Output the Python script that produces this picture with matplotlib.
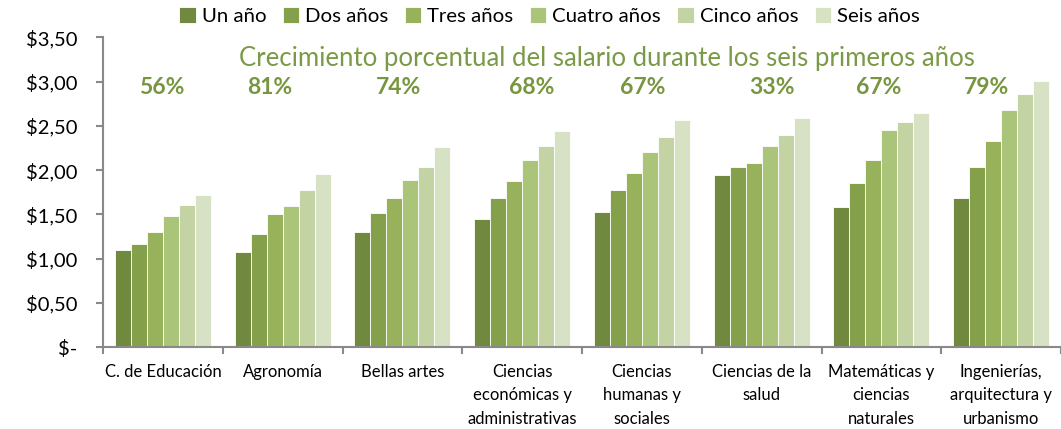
import matplotlib
matplotlib.use("Agg")
import matplotlib.pyplot as plt
import numpy as np
from matplotlib.ticker import FixedLocator, NullFormatter

plt.rcParams['font.family'] = ['Lato', 'DejaVu Sans']

categories = ["C. de Educación", "Agronomía", "Bellas artes",
              "Ciencias\neconómicas y\nadministrativas", "Ciencias\nhumanas y\nsociales",
              "Ciencias de la\nsalud", "Matemáticas y\nciencias\nnaturales",
              "Ingenierías,\narquitectura y\nurbanismo"]
series_names = ["Un año", "Dos años", "Tres años", "Cuatro años", "Cinco años", "Seis años"]
un_ano     = [1.10, 1.08, 1.30, 1.45, 1.53, 1.95, 1.58, 1.68]
dos_anos   = [1.17, 1.28, 1.51, 1.69, 1.77, 2.04, 1.86, 2.04]
tres_anos  = [1.30, 1.50, 1.69, 1.88, 1.97, 2.08, 2.11, 2.33]
cuatro_anos= [1.48, 1.59, 1.89, 2.11, 2.20, 2.27, 2.45, 2.68]
cinco_anos = [1.61, 1.78, 2.03, 2.27, 2.37, 2.40, 2.55, 2.86]
seis_anos  = [1.72, 1.96, 2.26, 2.44, 2.57, 2.59, 2.65, 3.01]
growth_labels = ["56%", "81%", "74%", "68%", "67%", "33%", "67%", "79%"]
title_text = "Crecimiento porcentual del salario durante los seis primeros años"
yticks = [0, 0.5, 1.0, 1.5, 2.0, 2.5, 3.0, 3.5]
ytick_labels = ["$-", "$0,50", "$1,00", "$1,50", "$2,00", "$2,50", "$3,00", "$3,50"]

# layout: small horizontal nudges of the growth labels (as placed in the original)
label_nudge = [-0.01, -0.11, -0.03, 0.08, 0.01, 0.09, -0.02, -0.12]

colors = ["#71893E", "#84A04A", "#97B25A", "#AAC47A", "#C3D3A4", "#D7E1C4"]
series = [un_ano, dos_anos, tres_anos, cuatro_anos, cinco_anos, seis_anos]

fig = plt.figure(figsize=(10.61, 4.29), dpi=100)
ax = fig.add_axes([0.0971, 0.1911, 0.9029, 0.7215])

n = len(categories)
x = np.arange(n)
group_w = 0.8
bw = group_w / len(series)
handles = []
for i, (vals, c, name) in enumerate(zip(series, colors, series_names)):
    offs = -group_w / 2 + bw * (i + 0.5)
    h = ax.bar(x + offs, vals, width=bw, color=c, edgecolor="white", linewidth=0.6, label=name)
    handles.append(h)

ax.set_xlim(-0.5, n - 0.5)
ax.set_ylim(0, 3.5)
ax.set_yticks(yticks)
ax.set_yticklabels(ytick_labels, fontsize=14.5)

ax.xaxis.set_major_locator(FixedLocator(np.arange(n + 1) - 0.5))
ax.xaxis.set_major_formatter(NullFormatter())
ax.xaxis.set_minor_locator(FixedLocator(x))
ax.set_xticklabels(categories, minor=True, fontsize=12, linespacing=1.6, va="top")
ax.tick_params(axis="x", which="minor", length=0, pad=12)
ax.tick_params(axis="x", which="major", length=5, color="#898989", width=1.5)
ax.tick_params(axis="y", length=5, color="#898989", width=1.5, pad=13.5)

for s in ["top", "right"]:
    ax.spines[s].set_visible(False)
for s in ["left", "bottom"]:
    ax.spines[s].set_color("#898989")
    ax.spines[s].set_linewidth(1.5)

for xi, lab, dx in zip(x, growth_labels, label_nudge):
    ax.text(xi + dx, 2.93, lab, ha="center", va="center", fontsize=16.5,
            fontweight="bold", color="#77963F")

ax.text(3.71, 3.26, title_text, ha="center", va="center", fontsize=18.5, color="#7A9A47")

fig.legend(handles=handles, labels=series_names, loc="center", ncol=6,
           bbox_to_anchor=(0.518, 0.962), frameon=False, fontsize=14.7,
           handlelength=0.8, handleheight=0.8, handletextpad=0.3, columnspacing=0.8)

fig.savefig("out.png", dpi=100)
